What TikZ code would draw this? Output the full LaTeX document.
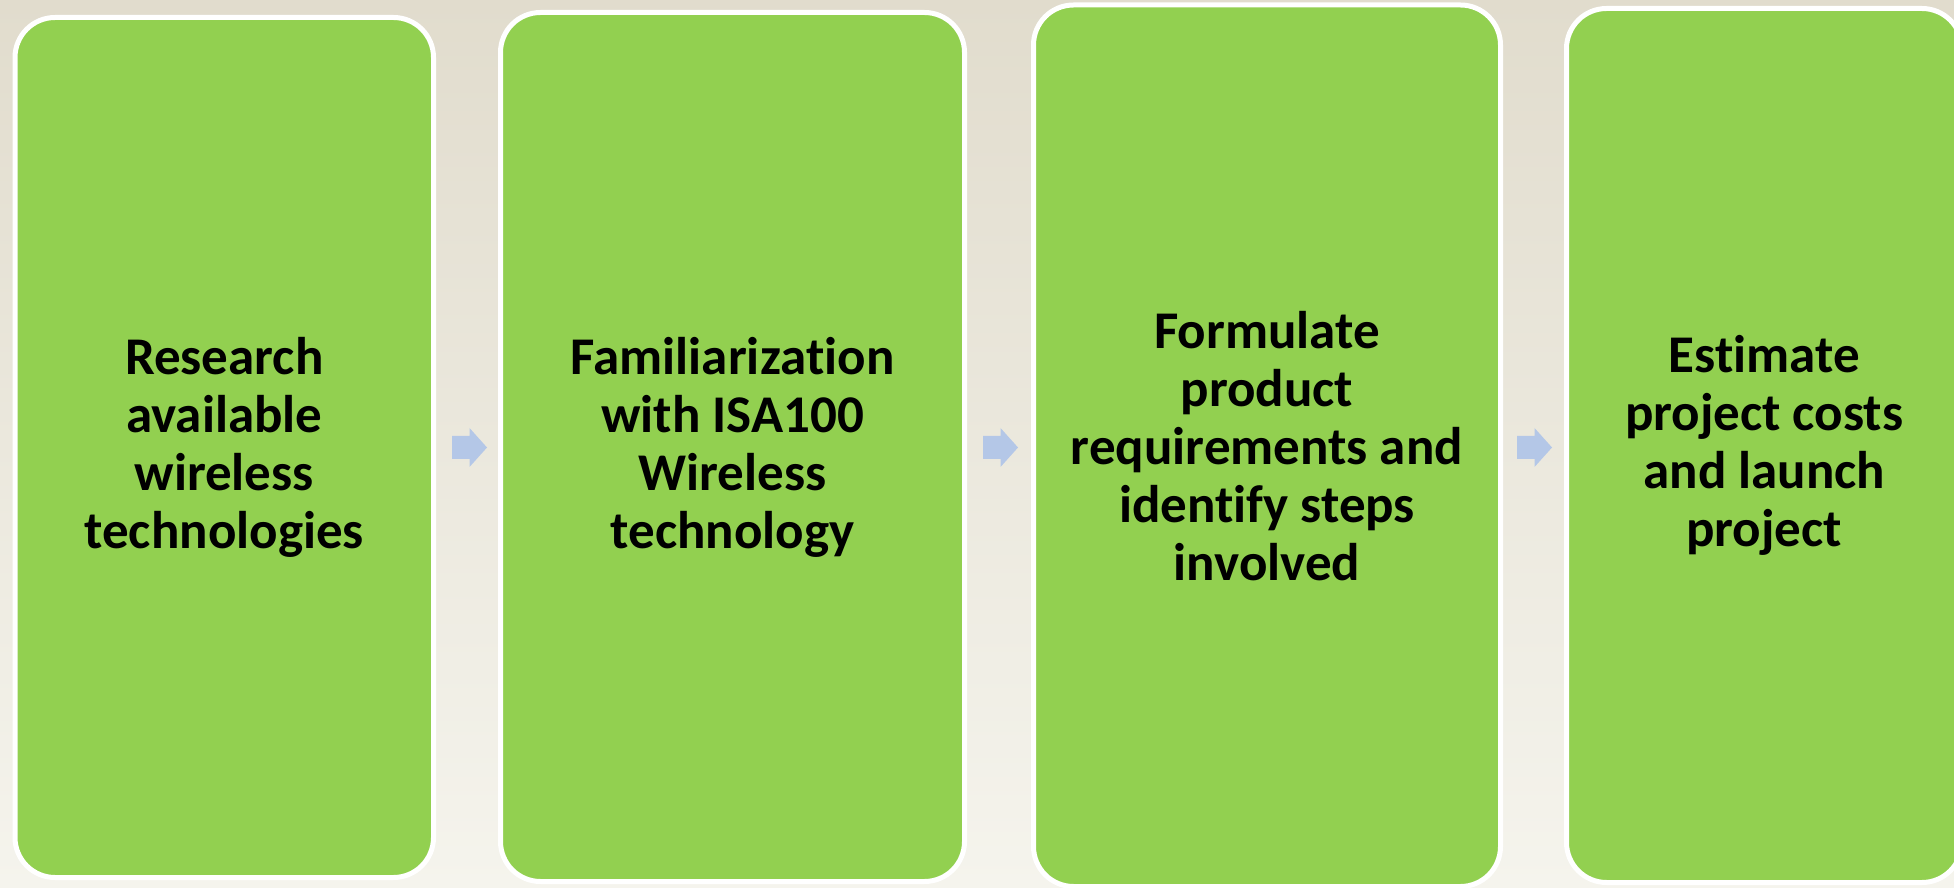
\documentclass[tikz,border=0pt]{standalone}
\usepackage{fontspec}
\setmainfont{Carlito}[Ligatures={NoCommon}]
\definecolor{bgtop}{RGB}{225,220,205}
\definecolor{bgbot}{RGB}{245,244,237}
\definecolor{stepgreen}{RGB}{146,208,80}
\definecolor{arrowblue}{RGB}{180,199,231}
\begin{document}
\begin{tikzpicture}[x=1pt,y=1pt,
  stepbox/.style={rectangle, rounded corners=40pt, draw=white, line width=5pt,
    fill=stepgreen, align=center, inner sep=0pt,
    font=\fontsize{53}{58}\selectfont\bfseries, text=black},
  arrowshape/.style={fill=arrowblue}]
\useasboundingbox (0,0) rectangle (1954,887);
\clip (0,0) rectangle (1954,887);
\shade[top color=bgtop, bottom color=bgbot] (0,0) rectangle (1954,887);
\node[stepbox, minimum width=418.5pt, minimum height=860pt] (b1) at (224.25,439.5)
  {Research\\available\\wireless\\technologies};
\node[stepbox, minimum width=464pt, minimum height=869pt] (b2) at (732.5,440)
  {Familiarization\\with ISA100\\Wireless\\technology};
\node[stepbox, minimum width=467pt, minimum height=881.5pt] (b3) at (1267,441.25)
  {Formulate\\product\\requirements and\\identify steps\\involved};
\node[stepbox, minimum width=395.5pt, minimum height=874pt] (b4) at (1764.25,441.5)
  {Estimate\\project costs\\and launch\\project};
\coordinate (a1) at (469.5,439.5);
\coordinate (a2) at (1000.5,439.5);
\coordinate (a3) at (1534.5,439.5);
\foreach \a in {a1,a2,a3}{
  \fill[arrowshape, shift={(\a)}] (-17.5,-11.5) -- (0,-11.5) -- (0,-19.5) -- (17.5,0)
    -- (0,19.5) -- (0,11.5) -- (-17.5,11.5) -- cycle;
}
\end{tikzpicture}
\end{document}
